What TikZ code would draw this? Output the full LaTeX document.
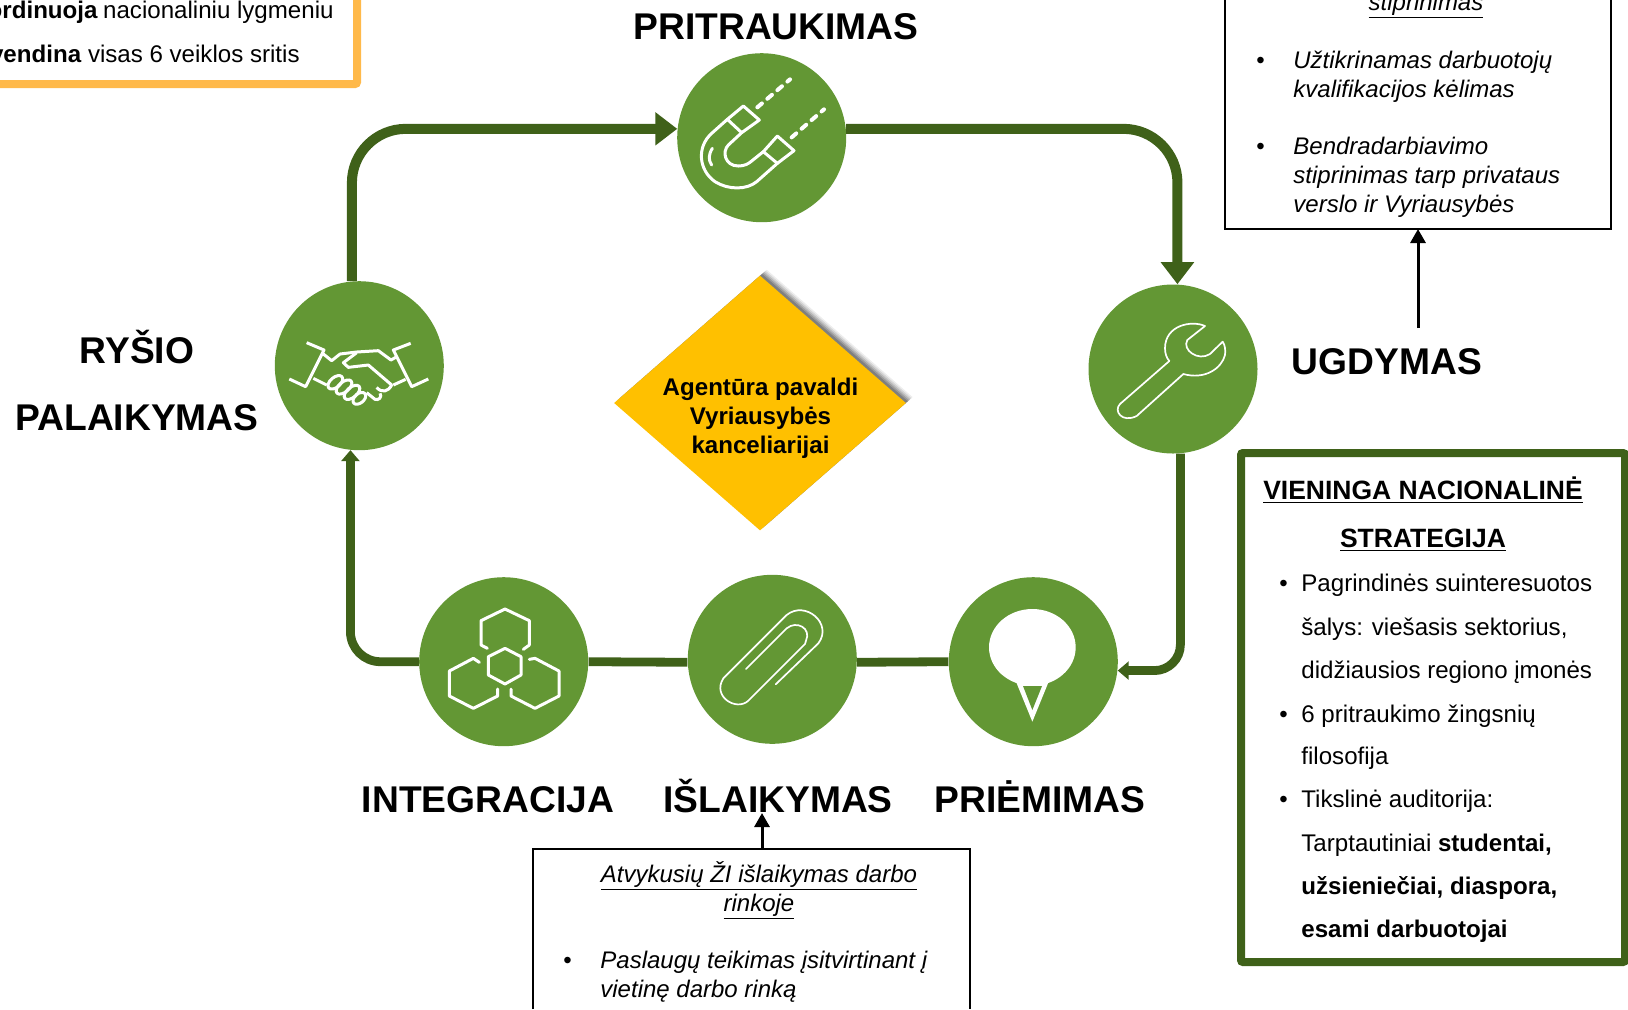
\documentclass[tikz,border=0pt]{standalone}
\usepackage{fontspec}
\setmainfont{Liberation Sans}
\usetikzlibrary{arrows.meta,shapes.geometric,shadows}
\definecolor{ringgreen}{HTML}{639734}
\definecolor{linegreen}{HTML}{3F6119}
\definecolor{diamondyellow}{HTML}{FFC000}
\definecolor{boxorange}{HTML}{FFB94A}

\begin{document}
\begin{tikzpicture}
        [x=0.5pt,y=-0.5pt,
        ring/.style = {circle,
        minimum size = 84.5pt,
        inner sep=0pt,
        fill=ringgreen},
        flow/.style = {draw=linegreen,line width=4.4pt},
        flowtip/.style = {flow,line width=5pt,rounded corners=27pt,-{Triangle[length=11pt,width=16pt,fill=linegreen]}},
        smalltip/.style = {flow,rounded corners=13pt,-{Triangle[length=5.5pt,width=9pt,fill=linegreen]}},
        title/.style = {anchor=base,inner sep=0pt,font=\fontsize{18.6}{18.6}\selectfont\bfseries},
        txt/.style = {anchor=base west,inner sep=0pt,font=\fontsize{12.05}{12.05}\selectfont},
        itxt/.style = {txt,font=\fontsize{12}{12}\selectfont\itshape},
        icon/.style = {x=0.16667pt,y=-0.16667pt,draw=white,line width=1.5pt,line join=round,line cap=round},
        thinicon/.style = {icon,line width=0.85pt},
        outarrow/.style = {draw=black,line width=1.5pt,-{Triangle[length=7pt,width=7.5pt]}}]

        \useasboundingbox (0,0) rectangle (1628,1009);

        % Circles
        \node[ring] (pritraukimas) at (761.7,137.7) {};
        \node[ring] (ugdymas) at (1173,369) {};
        \node[ring] (priemimas) at (1033.3,661.7) {};
        \node[ring] (islaikymas) at (772.3,659.3) {};
        \node[ring] (integracija) at (503.7,661.7) {};
        \node[ring] (rysio) at (359.3,365.7) {};

        % Connectors
        \draw[flowtip] (rysio.95) |- (pritraukimas.174);
        \draw[flowtip] (pritraukimas.6) -| (ugdymas.87);
        \draw[smalltip] (ugdymas.-85) |- (priemimas.-6);
        \draw[flow] (priemimas.west) -- (islaikymas.-2);
        \draw[flow] (islaikymas.182) -- (integracija.east);
        \draw[smalltip,rounded corners=15pt] (integracija.west) -| (rysio.-96);

        % Diamond
        \node[diamond,aspect=1.145,minimum width=146pt,minimum height=127.5pt,inner sep=0pt,fill=diamondyellow,
        drop shadow={shadow xshift=3.4pt,shadow yshift=2.97pt,opacity=.07,fill=black},
        drop shadow={shadow xshift=2.8pt,shadow yshift=2.45pt,opacity=.1,fill=black},
        drop shadow={shadow xshift=2.2pt,shadow yshift=1.92pt,opacity=.13,fill=black},
        drop shadow={shadow xshift=1.6pt,shadow yshift=1.4pt,opacity=.16,fill=black},
        drop shadow={shadow xshift=1pt,shadow yshift=.87pt,opacity=.18,fill=black}] (centre) at (760,403) {};
        \node[align=center,inner sep=0pt,font=\fontsize{12.05}{14.4}\selectfont\bfseries] (centretext) at (760.5,418) {Agentūra pavaldi\\Vyriausybės\\kanceliarijai};

        % Titles
        \node[title] (tpritraukimas) at (776,39) {PRITRAUKIMAS};
        \node[title] (tugdymas) at (1387,374) {UGDYMAS};
        \node[title] (tpriemimas) at (1040,812) {PRIĖMIMAS};
        \node[title] (tislaikymas) at (778,812) {IŠLAIKYMAS};
        \node[title] (tintegracija) at (488,812) {INTEGRACIJA};
        \node[title] (trysio) at (137,363) {RYŠIO};
        \node[title] (tpalaikymas) at (137,430) {PALAIKYMAS};

        % Orange box, cut by the page
        \draw[boxorange,line width=4pt,rounded corners=1pt] (0,84) -- (357,84) -- (357,0);
        \node[txt,anchor=base east] (orange1) at (334,18) {\textbf{ordinuoja}\hspace{-.6pt} nacionaliniu lygmeniu};
        \node[txt,anchor=base east] (orange2) at (300,62) {\textbf{vendina} visas 6 veiklos sritis};

        % Upper black box
        \draw[line width=1.3pt] (1225,0) -- (1225,229) -- (1611,229) -- (1611,0);
        \coordinate (upperfoot) at (1418,229);
        \node[itxt,anchor=base] (up0) at (1426,10) {\underline{stiprinimas}};
        \node[txt] (upb1) at (1256,68) {•};
        \node[itxt] (up1) at (1293,68) {Užtikrinamas darbuotojų};
        \node[itxt] (up2) at (1293,97) {kvalifikacijos kėlimas};
        \node[txt] (upb2) at (1256,154) {•};
        \node[itxt] (up3) at (1293,154) {Bendradarbiavimo};
        \node[itxt] (up4) at (1293,183) {stiprinimas tarp privataus};
        \node[itxt] (up5) at (1293,212) {verslo ir Vyriausybės};
        \coordinate (ugdymasfoot) at (1418,328);
        \draw[outarrow] (ugdymasfoot) -- (upperfoot);

        % Lower black box
        \draw[line width=1.3pt] (533,1009) -- (533,849) -- (970,849) -- (970,1009);
        \coordinate (lowerhead) at (762,849);
        \coordinate (islaikymasfoot) at (762,813);
        \node[itxt,anchor=base] (low0) at (759,882) {\underline{Atvykusių ŽI išlaikymas darbo}};
        \node[itxt,anchor=base] (low1) at (759,911) {\underline{rinkoje}};
        \node[txt] (lowb) at (563,968) {•};
        \node[itxt] (low2) at (600,968) {Paslaugų teikimas įsitvirtinant į};
        \node[itxt] (low3) at (600,997) {vietinę darbo rinką};
        \draw[outarrow] (lowerhead) -- (islaikymasfoot);

        % Strategy box
        \draw[linegreen,line width=4pt,rounded corners=1pt] (1241,453) rectangle (1625,962);
        \node[txt,anchor=base,font=\fontsize{13.25}{13.25}\selectfont\bfseries] (st0) at (1423,499) {\underline{VIENINGA NACIONALINĖ}};
        \node[txt,anchor=base,font=\fontsize{13.25}{13.25}\selectfont\bfseries] (st1) at (1423,547) {\underline{STRATEGIJA}};
        \node[txt] (stb1) at (1279,591) {•};
        \node[txt] (st2) at (1301,591) {Pagrindinės suinteresuotos};
        \node[txt] (st3) at (1301,635) {šalys: viešasis sektorius,};
        \node[txt] (st4) at (1301,678) {didžiausios regiono įmonės};
        \node[txt] (stb2) at (1279,722) {•};
        \node[txt] (st5) at (1301,722) {6 pritraukimo žingsnių};
        \node[txt] (st6) at (1301,764) {filosofija};
        \node[txt] (stb3) at (1279,807) {•};
        \node[txt] (st7) at (1301,807) {Tikslinė auditorija:};
        \node[txt] (st8) at (1301,851) {Tarptautiniai \textbf{studentai,}};
        \node[txt] (st9) at (1301,894) {\textbf{užsieniečiai, diaspora,}};
        \node[txt] (st10) at (1301,937) {\textbf{esami darbuotojai}};

        % Magnet
        \begin{scope}[shift={(640,30)},icon]
            \draw (262,268) -- (310,228) -- (358,270) -- (305,308) -- cycle;
            \draw (370,365) -- (412,318) -- (462,362) -- (412,400) -- cycle;
            \draw (305,308) -- (265,345) .. controls (245,365) and (255,408) .. (295,408) .. controls (312,408) and (325,402) .. (335,393) -- (370,365);
            \draw (262,268) -- (215,310) .. controls (170,350) and (175,420) .. (225,455) .. controls (265,480) and (320,480) .. (350,455) -- (412,400);
            \draw (217,355) .. controls (205,375) and (205,390) .. (215,405);
            \draw[line width=2pt,dash pattern=on 3pt off 3.6pt] (352,232) -- (450,148);
            \draw[line width=2pt,dash pattern=on 3pt off 3.6pt] (455,322) -- (552,238);
        \end{scope}

        % Handshake
        \begin{scope}[shift={(260,270)},icon,line cap=butt]
            \draw (140,218) -- (192,240) -- (137,350) -- (88,327);
            \draw (452,220) -- (400,240) -- (455,350) -- (505,327);
            \draw (190,252) -- (215,272) -- (240,252) -- (290,246) -- (355,242) -- (393,270) -- (407,262);
            \draw (290,248) -- (250,278) -- (265,292) -- (325,285) -- (395,345) .. controls (385,365) and (365,370) .. (350,352);
            \draw (400,345) -- (437,328);
            \draw (160,325) -- (200,345);
            \draw[rotate around={40:(226,337)}] (226,337) ellipse (26 and 15);
            \draw[rotate around={40:(252,351)}] (252,351) ellipse (28 and 15);
            \draw[rotate around={40:(276,367)}] (276,367) ellipse (28 and 15);
            \draw[rotate around={40:(298,385)}] (298,385) ellipse (22 and 14);
            \draw (320,368) -- (345,388) .. controls (355,392) and (368,382) .. (360,370);
        \end{scope}

        % Hexagons
        \begin{scope}[shift={(410,570)},icon]
            \draw (232,235) -- (213,225) -- (213,152) -- (285,117) -- (358,152) -- (358,225) -- (340,238);
            \draw (285,235) -- (333,260) -- (333,315) -- (285,342) -- (235,315) -- (235,260) -- cycle;
            \draw (208,277) -- (190,265) -- (118,303) -- (118,378) -- (190,415) -- (263,378) -- (263,357);
            \draw (358,268) -- (375,265) -- (447,303) -- (447,378) -- (375,415) -- (303,378) -- (303,357);
        \end{scope}

        % Paperclip
        \begin{scope}[shift={(680,570)},thinicon]
            \draw (198,297) -- (320,175) .. controls (350,150) and (395,175) .. (378,212) -- (375,222) -- (205,392) .. controls (170,425) and (95,380) .. (130,325) -- (320,135) .. controls (375,90) and (460,160) .. (415,220) -- (287,343);
        \end{scope}

        % Pin
        \begin{scope}[shift={(680,570)},icon,line width=0pt]
            \fill[white] (1057,232) ellipse (130 and 115);
            \fill[white] (1008,335) -- (1106,335) -- (1057,455) -- cycle;
            \fill[ringgreen] (1029,348) -- (1086,348) -- (1057,420) -- cycle;
        \end{scope}

        % Wrench
        \begin{scope}[shift={(1080,280)},thinicon]
            \draw (375,138) .. controls (335,120) and (255,135) .. (255,205) .. controls (255,220) and (260,235) .. (268,243) -- (120,372) .. controls (100,392) and (125,430) .. (170,408) -- (310,282) .. controls (375,300) and (425,265) .. (435,225) .. controls (437,210) and (435,195) .. (428,185) -- (390,222) .. controls (355,245) and (305,210) .. (322,180) -- cycle;
        \end{scope}
\end{tikzpicture}
\end{document}
